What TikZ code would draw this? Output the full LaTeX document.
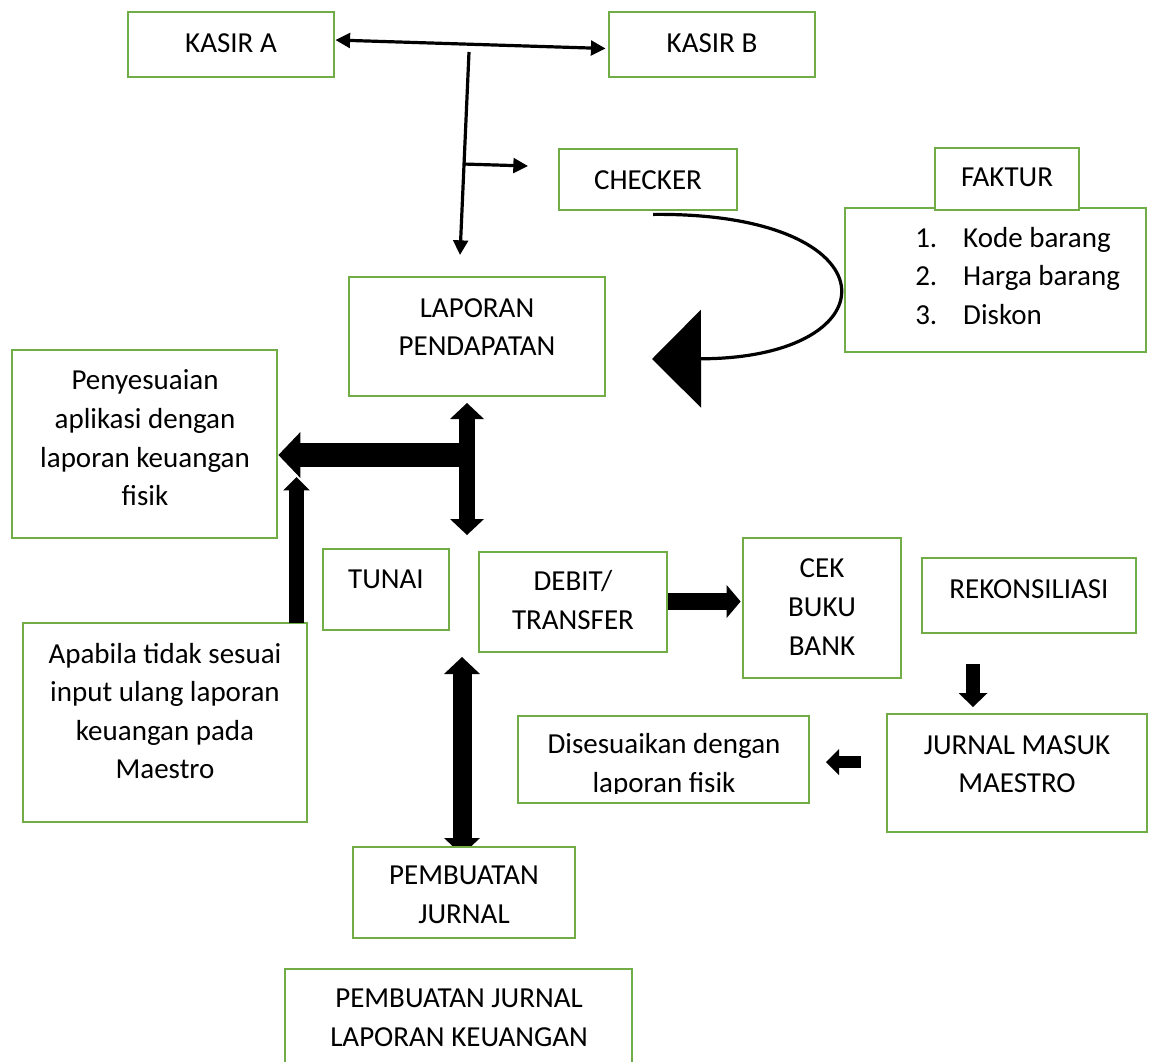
\documentclass[tikz,border=0pt]{standalone}
\usepackage{fontspec}
\setmainfont{Carlito}
\usetikzlibrary{arrows.meta,calc,fit,backgrounds}
\definecolor{boxgreen}{HTML}{70AD47}
\tikzset{
  box/.style={draw=boxgreen, line width=2.1pt, fill=white, inner sep=0pt},
  txt/.style={font=\fontsize{21.75}{28.95}\selectfont, align=center, inner sep=0pt},
  thinline/.style={line width=2.4pt, black},
  fatline/.style={black, line cap=butt}
}
\begin{document}
\begin{tikzpicture}[x=0.75pt, y=-0.75pt]
\useasboundingbox (0,0) rectangle (1149,1061);

% ---------- boxes ----------
\node[box, fit={(128,12) (334,77)}] (kA) {};
\node[box, fit={(609,12) (815,77)}] (kB) {};
\node[box, fit={(559,149) (737,210)}] (chk) {};
\node[box, fit={(845,208) (1146,352)}] (fl) {};
\node[box, fit={(935,148) (1079,210)}] (fak) {};
\node[box, fit={(349,277) (605,396)}] (lap) {};
\node[box, fit={(12,350) (277,538)}] (pen) {};
\node[box, fit={(323,549) (449,630)}] (tun) {};
\node[box, fit={(479,552) (667,652)}] (deb) {};
\node[box, fit={(743,538) (901,678)}] (cek) {};
\node[box, fit={(922,558) (1136,633)}] (rek) {};
\node[box, fit={(887,714) (1147,832)}] (jmm) {};
\node[box, fit={(518,716) (809,803)}] (dis) {};
\node[box, fit={(23,623) (307,822)}] (apa) {};
\node[box, fit={(353,847) (575,938)}] (pj) {};
\node[box, fit={(285,969) (632,1080)}] (pjl) {};

% ---------- texts ----------
\node[txt] (kAt) at (231,43) {KASIR A};
\node[txt] (kBt) at (712,43) {KASIR B};
\node[txt] (chkt) at (648,180) {CHECKER};
\node[txt] (fakt) at (1007,177) {FAKTUR};
\node[txt, align=left, anchor=west] (flt) at (915,276)
  {\makebox[36pt][l]{1.}Kode barang\\\makebox[36pt][l]{2.}Harga barang\\\makebox[36pt][l]{3.}Diskon};
\node[txt] (lapt) at (477,327) {LAPORAN\\PENDAPATAN};
\node[txt] (pent) at (145,438) {Penyesuaian\\aplikasi dengan\\laporan keuangan\\fisik};
\node[txt] (tunt) at (386,579) {TUNAI};
\node[txt] (debt) at (573,600) {DEBIT/\\TRANSFER};
\node[txt] (cekt) at (822,607) {CEK\\BUKU\\BANK};
\node[txt] (rekt) at (1029,589) {REKONSILIASI};
\node[txt] (jmmt) at (1017,764) {JURNAL MASUK\\MAESTRO};
\begin{scope}
  \clip (518,716) rectangle (809,793);
  \node[txt] (dist) at (664,765) {Disesuaikan dengan\\laporan fisik};
\end{scope}
\node[txt] (apat) at (165,711) {Apabila tidak sesuai\\input ulang laporan\\keuangan pada\\Maestro};
\node[txt] (pjt) at (464,895) {PEMBUATAN\\JURNAL};
\node[txt] (pjlt) at (459,1018) {PEMBUATAN JURNAL\\LAPORAN KEUANGAN};

% ---------- free-end coordinates ----------
\coordinate (vtop) at (469,52);
\coordinate (vbot) at (460,255);
\coordinate (brs) at (463,164);
\coordinate (bre) at (528,166);
\coordinate (lapA) at (467,403);
\coordinate (lapB) at (467,535);
\coordinate (hstart) at (467,455);
\coordinate (pjA) at (462,657);
\coordinate (pjB) at (462,855);
\coordinate (rekA) at (973,664);
\coordinate (rekB) at (973,707);
\coordinate (jmmA) at (861,762);
\coordinate (jmmB) at (826,762);
\coordinate (apaA) at (296.5,623);
\coordinate (apaB) at (296.5,477);

% ---------- thin arrows ----------
\draw[thinline, {Triangle[length=11pt,width=11pt]}-{Triangle[length=11pt,width=11pt]}]
  ($(kA.east)+(0,-4.5)$) -- ($(kB.west)+(-2,4)$);
\draw[thinline, -{Triangle[length=11pt,width=11pt]}] (vtop) -- (vbot);
\draw[thinline, -{Triangle[length=11pt,width=11pt]}] (brs) -- (bre);
\draw[thinline, -{Triangle[length=36.75pt,width=73.5pt,line width=0pt]}]
  ($(chk.south)+(5,3)$) .. controls (896,212) and (896,358) .. (652,359);

% ---------- block arrows ----------
\draw[fatline, line width=18pt, -{Triangle[length=16.5pt,width=34.5pt,line width=0pt]}]
  (hstart) -- (pen.east |- hstart);
\draw[fatline, line width=12pt,
  {Triangle[length=12pt,width=25.5pt,line width=0pt]}-{Triangle[length=12pt,width=25.5pt,line width=0pt]}]
  (lapA) -- (lapB);
\draw[fatline, line width=11.25pt, -{Triangle[length=10pt,width=20pt,line width=0pt]}]
  (apaA) -- (apaB);
\begin{scope}[on background layer]
\draw[fatline, line width=14.25pt,
  {Triangle[length=12.75pt,width=27pt,line width=0pt]}-{Triangle[length=12.75pt,width=27pt,line width=0pt]}]
  (pjA) -- (pjB);
\end{scope}
\draw[fatline, line width=12.75pt, -{Triangle[length=10.5pt,width=24.75pt,line width=0pt]}]
  (deb.east |- 0,601.5) -- ($(cek.west |- 0,601.5)+(-1,0)$);
\draw[fatline, line width=10.5pt, -{Triangle[length=10.5pt,width=21.75pt,line width=0pt]}]
  (rekA) -- (rekB);
\draw[fatline, line width=9pt, -{Triangle[length=9.75pt,width=19.5pt,line width=0pt]}]
  (jmmA) -- (jmmB);
\end{tikzpicture}
\end{document}
